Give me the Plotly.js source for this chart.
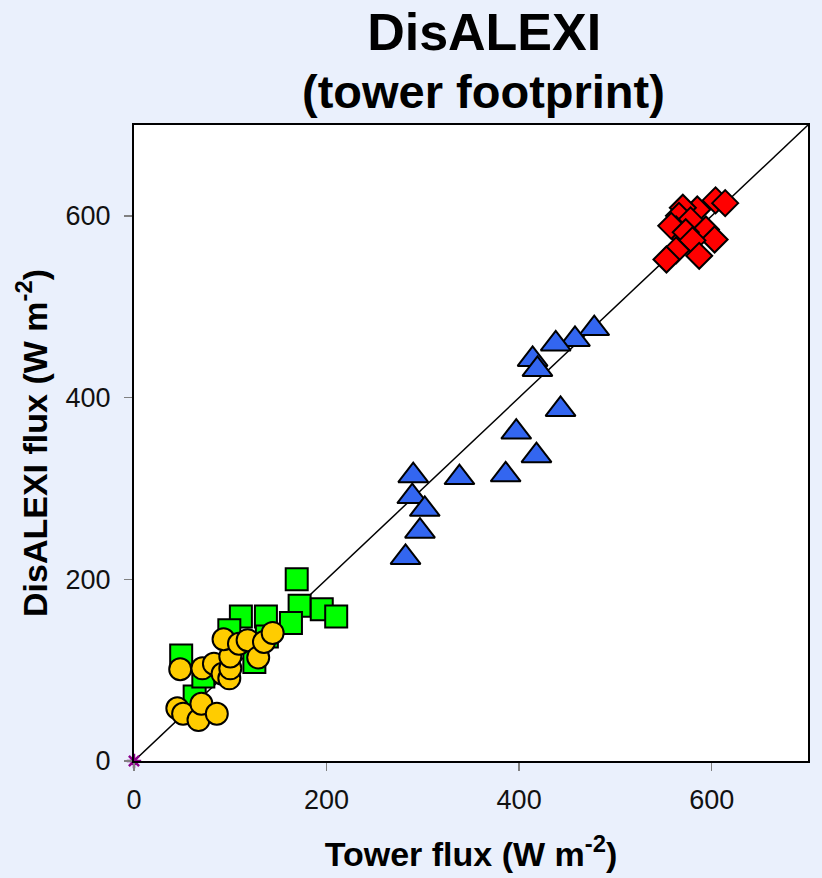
<!DOCTYPE html>
<html>
<head>
<meta charset="utf-8">
<script src="https://cdn.plot.ly/plotly-3.0.1.min.js"></script>
<style>
  html, body { margin: 0; padding: 0; background: #EAF0FC; }
  #chart { width: 822px; height: 878px; }
</style>
</head>
<body>
<div id="chart"></div>
<script>
// Tower-measured vs DisALEXI-modelled flux (W m-2), tower footprint comparison

// Green squares
const sqTower  = [169, 172, 195, 210, 163, 137, 111, 99, 49, 63, 125, 138, 72];
const sqModel  = [200, 171, 167, 159, 152, 159, 159, 144, 116, 71, 109, 137, 93];

// Yellow circles
const ciTower  = [48, 45, 51, 67, 70, 86, 71, 83, 92, 99, 100, 100, 93, 109, 118, 129, 135, 144];
const ciModel  = [101, 58, 52, 45, 63, 52, 102, 107, 96, 91, 102, 115, 134, 129, 133, 114, 131, 141];

// Blue triangles
const trTower  = [478, 458, 438, 414, 419, 443, 397, 418, 386, 338, 290, 289, 302, 297, 282];
const trModel  = [476, 464, 459, 442, 431, 387, 362, 336, 315, 312, 314, 291, 277, 253, 224];

// Red diamonds
const diTower  = [604, 585, 570, 566, 578, 594, 563, 558, 573, 603, 580, 563, 587, 553, 614];
const diModel  = [617, 607, 609, 600, 595, 585, 585, 589, 582, 574, 573, 562, 556, 552, 614];

// 1:1 reference line and origin marker
const oneToOne = [0, 700];
const origin   = [0];

const axisTicks = [0, 200, 400, 600];

const FONT = 'Liberation Sans, Arial, Helvetica, sans-serif';
const EDGE = { color: '#000000', width: 2 };

const traces = [
  {
    x: oneToOne, y: oneToOne, mode: 'lines', type: 'scatter',
    line: { color: '#000000', width: 1.5 }, hoverinfo: 'skip'
  },
  {
    x: sqTower, y: sqModel, mode: 'markers', type: 'scatter', name: 'squares',
    marker: { symbol: 'square', size: 22, color: '#00FF00', line: EDGE }
  },
  {
    x: ciTower, y: ciModel, mode: 'markers', type: 'scatter', name: 'circles',
    marker: { symbol: 'circle', size: 22, color: '#FFCC00', line: EDGE }
  },
  {
    x: trTower, y: trModel, mode: 'markers', type: 'scatter', name: 'triangles',
    marker: { symbol: 'triangle-up', size: 26, color: '#3366F0', line: EDGE }
  },
  {
    x: diTower, y: diModel, mode: 'markers', type: 'scatter', name: 'diamonds',
    marker: { symbol: 'diamond', size: 20, color: '#FF0000', line: EDGE }
  },
  {
    x: origin, y: origin, mode: 'markers', type: 'scatter', cliponaxis: false,
    marker: { symbol: 'asterisk-open', size: 12, color: '#8B008B', line: { color: '#8B008B', width: 2.5 } }
  }
];

const axisBase = {
  range: [0, 700],
  tickvals: axisTicks,
  ticks: 'outside',
  ticklen: 8,
  tickwidth: 1.5,
  tickcolor: '#808080',
  showgrid: false,
  zeroline: false,
  showline: true,
  linecolor: '#000000',
  linewidth: 2,
  mirror: true,
  tickfont: { family: FONT, size: 27, color: '#111111' },
  automargin: false
};

const layout = {
  width: 822,
  height: 878,
  paper_bgcolor: '#EAF0FC',
  plot_bgcolor: '#FFFFFF',
  showlegend: false,
  margin: { l: 134, r: 12, t: 125, b: 117 },
  title: {
    text: '<b>DisALEXI</b>',
    font: { family: FONT, size: 52, color: '#000000' },
    xref: 'container', x: 0.589, xanchor: 'center',
    yref: 'container', y: 0.964, yanchor: 'middle'
  },
  annotations: [{
    text: '<b>(tower footprint)</b>',
    xref: 'paper', yref: 'paper', x: 0.518, y: 1.052,
    xanchor: 'center', yanchor: 'middle', showarrow: false,
    font: { family: FONT, size: 47, color: '#000000' }
  }],
  xaxis: Object.assign({}, axisBase, {
    ticklabelstandoff: 6,
    title: {
      text: '<b>Tower flux (W m<sup>-2</sup>)</b>',
      font: { family: FONT, size: 34, color: '#000000' },
      standoff: 28
    }
  }),
  yaxis: Object.assign({}, axisBase, {
    ticklabelstandoff: 8,
    automargin: true,
    title: {
      text: '<b>DisALEXI flux (W m<sup>-2</sup>)</b>',
      font: { family: FONT, size: 34, color: '#000000' },
      standoff: 8
    }
  })
};

Plotly.newPlot('chart', traces, layout, { displayModeBar: false, staticPlot: true });
</script>
</body>
</html>
